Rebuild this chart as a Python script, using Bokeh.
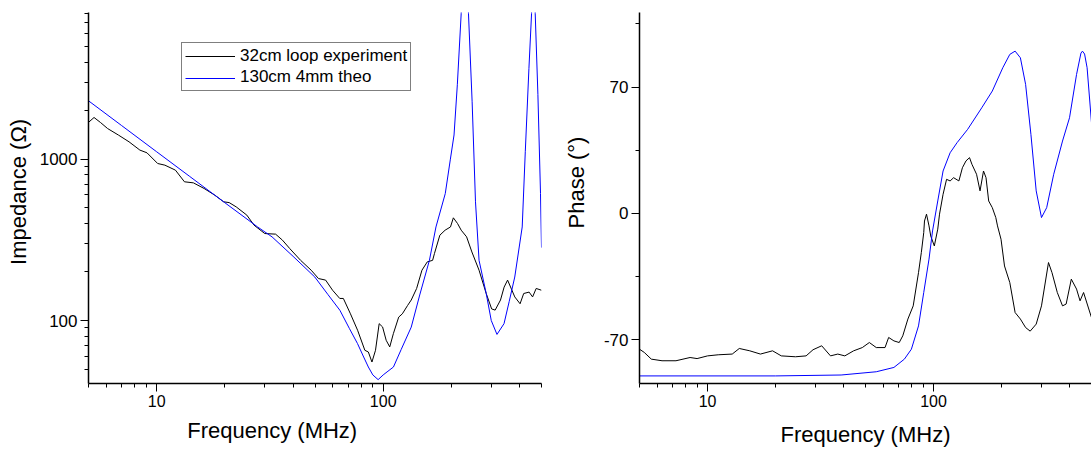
from bokeh.plotting import figure
from bokeh.models import (Range1d, FixedTicker, NumeralTickFormatter, Legend,
                          LegendItem, Title)
from bokeh.layouts import row
from bokeh.embed import file_html
from bokeh.resources import INLINE

# ---------------- data ----------------
# Impedance, experiment (32cm loop)
exp_imp_f = [5.0, 5.29, 5.65, 6.07, 6.78, 7.55, 8.43, 9.06, 10.1, 10.87, 12.1, 13.26,
             14.53, 16.2, 18.06, 19.77, 20.9, 22.45, 25.0, 26.9, 30.0, 33.5, 35.9, 38.7,
             43.2, 48.1, 51.8, 55.7, 59.8, 64.3, 66.7, 71.7, 77.1, 83.0, 86.0, 89.2,
             92.5, 96.0, 99.4, 103.1, 106.9, 110.9, 117.1, 121.5, 128.2, 133.0, 140.5,
             148.3, 156.6, 165.3, 168.4, 177.9, 187.7, 198.2, 204.1, 213.0, 221.0,
             233.5, 246.4, 265.0, 285.0, 301.2, 312.1, 329.6, 341.9, 354.2, 381.1,
             402.2, 417.2, 440.8, 456.7, 473.7, 500.0]
exp_imp_z = [1690, 1813, 1687, 1549, 1410, 1281, 1138, 1095, 940, 918, 855, 724,
             713, 658, 598, 544, 538, 506, 450, 390, 346, 343, 315, 279,
             236, 205, 182, 178, 154, 137, 137, 110, 87, 65.4, 63.8, 55.3,
             65.4, 95.6, 91.2, 75.4, 68.6, 82.9, 105, 110, 124, 134, 158,
             205, 231, 236, 260, 338, 363, 380, 433, 399, 363,
             330, 266, 205, 147, 118, 116, 134, 161, 178, 140,
             127, 147, 150, 140, 158, 154]

# Impedance, theory (130cm 4mm)
theo_imp_f = [5, 7, 10, 14, 20, 27.9, 32.3, 40, 49.9, 57, 64.4, 71, 77, 82, 86,
              90, 95, 100, 105, 111, 120, 133, 145, 160, 171, 188, 198, 205.5,
              212.5, 221, 229, 238, 247, 255.6, 265, 285, 300, 318, 341.6, 360,
              381, 411, 424, 440, 452, 460, 469, 482, 495, 500]
theo_imp_z = [2300, 1616, 1111, 781, 537, 380, 330, 250, 186, 145, 115.7, 89, 72, 59.4, 51.5,
              46, 43, 46, 48.5, 51.5, 66, 91, 144, 236, 380, 612, 1000, 1412,
              2892, 8000, 100000, 8000, 2268, 544, 236, 147, 100, 82, 95.6, 131,
              186, 380, 1112, 3652, 8000, 100000, 8000, 2520, 613, 283]

# Phase, experiment
exp_ph_f = [5.0, 5.25, 5.64, 6.29, 7.25, 8.37, 8.99, 10.0, 11.15, 12.86, 13.82, 15.38,
            17.14, 19.4, 21.2, 24.5, 27.3, 29.3, 32.0, 35.0, 37.7, 40.5, 44.3, 48.4,
            52.0, 55.8, 61.0, 63.3, 66.8, 70.5, 73.1, 77.0, 81.3, 85.8, 88.3, 90.5,
            91.2, 93.1, 95.5, 97.2, 100.8, 104.4, 106.3, 110.2, 114.2, 118.4, 122.7,
            129.5, 134.2, 139.2, 144.3, 147.9, 155.0, 160.6, 166.4, 170.7, 175.4,
            182.0, 188.6, 191.9, 198.9, 206.1, 217.5, 229.6, 242.3, 255.5, 267.7,
            284.6, 300.4, 322.6, 334.3, 352.9, 372.2, 386.1, 407.1, 429.4, 445.0,
            461.2, 500.0]
exp_ph = [-75.2, -77.0, -80.7, -81.6, -81.6, -79.8, -80.4, -78.9, -78.3, -77.9, -74.8, -76.1,
          -77.9, -76.1, -78.9, -79.4, -78.9, -75.5, -73.3, -78.9, -77.9, -78.9, -76.1, -74.3,
          -71.5, -74.3, -74.3, -68.7, -70.6, -71.5, -67.8, -58.5, -51.2, -32.8, -21.7, -10.6,
          -4.2, -0.4, -6.9, -12.5, -18.0, -8.7, -0.4, 10.6, 18.9, 18.0, 19.8,
          18.0, 25.3, 29.1, 30.9, 27.2, 21.7, 12.5, 23.5, 19.8, 6.9,
          3.2, -2.3, -6.9, -14.3, -29.1, -38.3, -54.9, -58.5, -63.2, -65.2,
          -61.3, -51.2, -27.2, -32.8, -43.8, -51.2, -50.2, -36.4, -41.9, -48.4,
          -43.8, -57.7]

# Phase, theory
theo_ph_f = [5, 20, 39.0, 55.8, 66.8, 74.3, 79.8, 85.8, 90.5, 95.5, 99.0, 104.4, 110.2,
             118.4, 127.1, 141.6, 163.4, 182.0, 202.5, 217.5, 229.6, 242.3, 255.5,
             269.7, 284.6, 300.4, 316.7, 340.2, 372.2, 399.7, 429.4, 449.0, 456.0,
             466.0, 478.1, 500]
theo_ph = [-90, -90, -89.5, -87.7, -85.3, -80.7, -75.2, -62.3, -43.8, -25.3, -9.7, 6.9, 23.5,
           33.6, 39.2, 46.6, 58.5, 67.8, 80.7, 88.1, 89.9, 86.2, 71.5,
           43.8, 12.5, -2.3, 3.2, 21.7, 40.1, 53.0, 77.0, 88.8, 89.9,
           88.3, 80.7, 50.2]

# ticks
freq_major = [10, 100]
freq_minor = [5, 6, 7, 8, 9, 20, 30, 40, 50, 60, 70, 80, 90, 200, 300, 400, 500]
imp_major = [100, 1000]
imp_minor = [50, 60, 70, 80, 90, 200, 300, 400, 500, 600, 700, 800, 900,
             2000, 3000, 4000, 5000, 6000, 7000, 8000]
ph_major = [-70, 0, 70]
ph_minor = [-35, 35, 105]

FONT = "Liberation Sans"
BLACK = "#000000"
BLUE = "#0000FF"
NBSP = "\u00a0"


def style_axis(ax, size):
    ax.axis_line_color = BLACK
    ax.axis_line_width = 1.5
    ax.major_tick_line_color = BLACK
    ax.minor_tick_line_color = BLACK
    ax.major_tick_line_width = 1
    ax.minor_tick_line_width = 1
    ax.major_tick_out = 8
    ax.major_tick_in = 0
    ax.minor_tick_out = 4
    ax.minor_tick_in = 0
    ax.major_label_text_font = FONT
    ax.major_label_text_font_size = size
    ax.major_label_text_color = BLACK
    ax.major_label_standoff = 3
    ax.formatter = NumeralTickFormatter(format="0")


def axis_title(ax, text, standoff):
    ax.axis_label = text
    ax.axis_label_text_font = FONT
    ax.axis_label_text_font_size = "22px"
    ax.axis_label_text_font_style = "normal"
    ax.axis_label_text_color = BLACK
    ax.axis_label_standoff = standoff


LEGEND_STYLE = dict(location=(93, 292), margin=0, padding=3, spacing=1,
                    glyph_width=50, glyph_height=18, label_height=18, label_standoff=5,
                    label_text_font=FONT, label_text_font_size="17px",
                    label_text_color=BLACK)

# ---------------- left: impedance ----------------
p1 = figure(x_axis_type="log", y_axis_type="log",
            x_range=Range1d(5, 500), y_range=Range1d(40.7, 8110),
            frame_width=453, frame_height=371,
            min_border_left=88, min_border_right=10, min_border_top=12, min_border_bottom=67,
            output_backend="svg", toolbar_location=None)
p1.grid.visible = False
p1.outline_line_color = None

r_exp = p1.line(exp_imp_f, exp_imp_z, line_color=BLACK, line_width=1)
r_theo = p1.line(theo_imp_f, theo_imp_z, line_color=BLUE, line_width=1)

xa = p1.xaxis[0]
style_axis(xa, "16px")
xa.ticker = FixedTicker(ticks=freq_major, minor_ticks=freq_minor)
# trailing no-break spaces shift the centred label to the left, as in the reference
axis_title(xa, "Frequency (MHz)" + NBSP * 14, 8)
ya = p1.yaxis[0]
style_axis(ya, "17px")
ya.ticker = FixedTicker(ticks=imp_major, minor_ticks=imp_minor)
axis_title(ya, NBSP * 2 + "Impedance (\u03a9)", 6)

# Legend drawn in two passes: first the theory sample line (drawn first, so its
# colour is applied correctly in the SVG output), then the box with both labels.
legend_theo_line = Legend(items=[LegendItem(label=" ", renderers=[r_theo])],
                          border_line_color="white", border_line_width=1,
                          background_fill_color="white", background_fill_alpha=1.0,
                          **LEGEND_STYLE)
p1.add_layout(legend_theo_line)

legend = Legend(items=[LegendItem(label="32cm loop experiment", renderers=[r_exp]),
                       LegendItem(label="130cm 4mm theo", renderers=[])],
                border_line_color=BLACK, border_line_width=1,
                background_fill_alpha=0.0,
                **LEGEND_STYLE)
p1.add_layout(legend)

# ---------------- right: phase ----------------
p2 = figure(x_axis_type="log",
            x_range=Range1d(5, 500), y_range=Range1d(-94.2, 111.3),
            frame_width=452, frame_height=371,
            min_border_left=86, min_border_right=2, min_border_top=12, min_border_bottom=67,
            output_backend="svg", toolbar_location=None)
p2.grid.visible = False
p2.outline_line_color = None

p2.line(exp_ph_f, exp_ph, line_color=BLACK, line_width=1)
p2.line(theo_ph_f, theo_ph, line_color=BLUE, line_width=1)

xa2 = p2.xaxis[0]
style_axis(xa2, "16px")
xa2.ticker = FixedTicker(ticks=freq_major, minor_ticks=freq_minor)
axis_title(xa2, "Frequency (MHz)", 12)
ya2 = p2.yaxis[0]
style_axis(ya2, "17px")
ya2.ticker = FixedTicker(ticks=ph_major, minor_ticks=ph_minor)

p2.add_layout(Title(text="Phase (\u00b0)", align="left", offset=155, vertical_align="middle",
                    standoff=22, text_font=FONT, text_font_size="22px",
                    text_font_style="normal", text_color=BLACK), "left")

layout = row(p1, p2)
open("out.html", "w").write(file_html(layout, INLINE))
